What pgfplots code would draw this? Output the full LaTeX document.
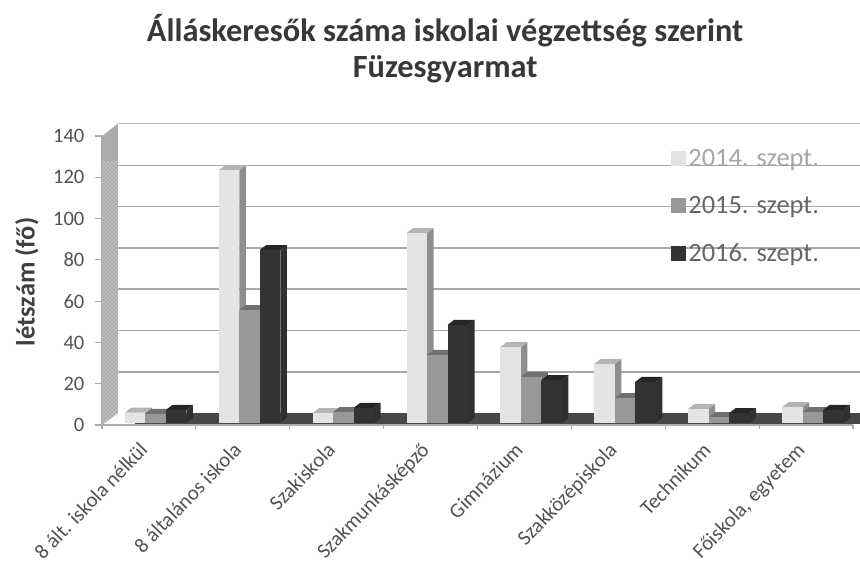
\documentclass[border=0pt]{standalone}
\usepackage{fontspec}
\setmainfont{Carlito}
\usepackage{pgfplots}
\pgfplotsset{compat=1.18}
\usetikzlibrary{patterns}

\definecolor{lightF}{HTML}{E4E4E4}
\definecolor{lightT}{HTML}{B4B4B4}
\definecolor{lightS}{HTML}{8E8E8E}
\definecolor{midF}{HTML}{989898}
\definecolor{midT}{HTML}{707070}
\definecolor{midS}{HTML}{707070}
\definecolor{darkF}{HTML}{333333}
\definecolor{darkT}{HTML}{262626}
\definecolor{darkS}{HTML}{303030}
\definecolor{gridc}{HTML}{A8A8A8}
\definecolor{wallc}{HTML}{ABABAB}

% one 3D-looking column: category, x offset in px, height, colour prefix
\newcommand{\barthree}[4]{%
  \pgfmathsetmacro\xa{#1+(#2)/93.875}%
  \pgfmathsetmacro\xb{\xa+20.5/93.875}%
  \pgfmathsetmacro\xc{\xb+6.5/93.875}%
  \pgfmathsetmacro\xd{\xa+6.5/93.875}%
  \pgfmathsetmacro\ytop{1+#3}%
  \pgfmathsetmacro\yback{\ytop+2.4}%
  \addplot[forget plot,fill=#4S,draw=none] coordinates {(\xb,1) (\xc,3.4) (\xc,\yback) (\xb,\ytop)} -- cycle;
  \addplot[forget plot,fill=#4T,draw=none] coordinates {(\xa,\ytop) (\xb,\ytop) (\xc,\yback) (\xd,\yback)} -- cycle;
  \addplot[forget plot,fill=#4F,draw=none] coordinates {(\xa,1) (\xb,1) (\xb,\ytop) (\xa,\ytop)} -- cycle;
}
\newcommand{\group}[4]{%
  \barthree{#1}{-24}{#2}{light}
  \barthree{#1}{-3.5}{#3}{mid}
  \barthree{#1}{17}{#4}{dark}
}

\begin{document}
\begin{tikzpicture}
\useasboundingbox (0,0) rectangle (645pt,421.5pt);
\begin{axis}[
    at={(76.5pt,102.75pt)},
    anchor=south west,
    scale only axis,
    width=563.25pt,
    height=216.75pt,
    xmin=-0.5, xmax=7.5,
    ymin=0, ymax=140,
    clip=false,
    axis x line*=bottom,
    axis y line*=left,
    axis line style={wallc,line width=1pt,-},
    xtick={0,...,7},
    xticklabels={8 ált. iskola nélkül,8 általános iskola,Szakiskola,Szakmunkásképző,Gimnázium,Szakközépiskola,Technikum,{Főiskola, egyetem}},
    minor xtick={-0.5,0.5,...,7.5},
    ytick={0,20,...,140},
    major x tick style={draw=none},
    minor x tick style={wallc,line width=0.8pt},
    y tick style={wallc,line width=0.8pt},
    tick align=outside,
    major tick length=5pt,
    minor tick length=3pt,
    /pgf/number format/assume math mode=true,
    yticklabel style={font=\fontsize{15.4}{18}\selectfont,text=black!68,inner sep=2pt,xshift=-6pt},
    xticklabel style={font=\fontsize{15.6}{18}\selectfont,text=black!68,rotate=46,anchor=north east,inner sep=0pt,yshift=1pt,xshift=-10.5pt},
    ylabel={\textbf{létszám (fő)}},
    ylabel style={font=\fontsize{19.8}{24}\selectfont,text=black!75,at={(axis description cs:-0.1,0.495)},anchor=center},
    title={Álláskeresők száma iskolai végzettség szerint\\Füzesgyarmat},
    title style={font=\fontsize{24.3}{27}\selectfont\bfseries,text=black!78,align=center,at={(axis description cs:0.457,1.276)},anchor=center},
    legend style={draw=none,fill=none,at={(axis description cs:0.757,0.965)},anchor=north west,
      font=\fontsize{19.8}{22}\selectfont,row sep=17pt,inner sep=0pt,
      /tikz/every even column/.style={column sep=10pt}},
    legend cell align=left,
    legend image code/.code={\path[#1] (0,-5.6pt) rectangle (11.25pt,5.6pt);},
]
% gridlines on the back wall
\pgfplotsinvokeforeach{25.8,45.8,65.8,85.8,105.8,125.8}{
  \addplot[forget plot,gridc,line width=1.2pt] coordinates {(-0.33,#1) (7.57,#1)};
}
\addplot[forget plot,black!30,line width=1pt] coordinates {(-0.33,146) (7.57,146)};
% left wall
\addplot[forget plot,fill=wallc,draw=none] coordinates {(-0.5,0) (-0.33,5.8) (-0.33,146) (-0.5,140)} -- cycle;
\addplot[forget plot,pattern=crosshatch dots,pattern color=white,draw=none] coordinates {(-0.5,0) (-0.33,5.8) (-0.33,128) (-0.5,128)} -- cycle;
% floor
\addplot[forget plot,fill=black!72,draw=none] coordinates {(-0.15,5.8) (7.57,5.8) (7.57,0.3) (-0.15,0.3)} -- cycle;

\group{0}{5}{4.4}{6.3}
\group{1}{122.5}{54.7}{83.8}
\group{2}{4.8}{5.3}{7.3}
\group{3}{92}{33}{47.5}
\group{4}{36.8}{22.3}{20.8}
\group{5}{28.6}{12}{19.9}
\group{6}{6.8}{2.9}{4.8}
\group{7}{7.7}{5.3}{6.3}

\addlegendimage{fill=lightF,draw=none}
\addlegendentry{\textcolor{black!35}{2014. szept.}}
\addlegendimage{fill=midF,draw=none}
\addlegendentry{\textcolor{black!60}{2015. szept.}}
\addlegendimage{fill=darkF,draw=none}
\addlegendentry{\textcolor{black!60}{2016. szept.}}
\end{axis}
\end{tikzpicture}
\end{document}
